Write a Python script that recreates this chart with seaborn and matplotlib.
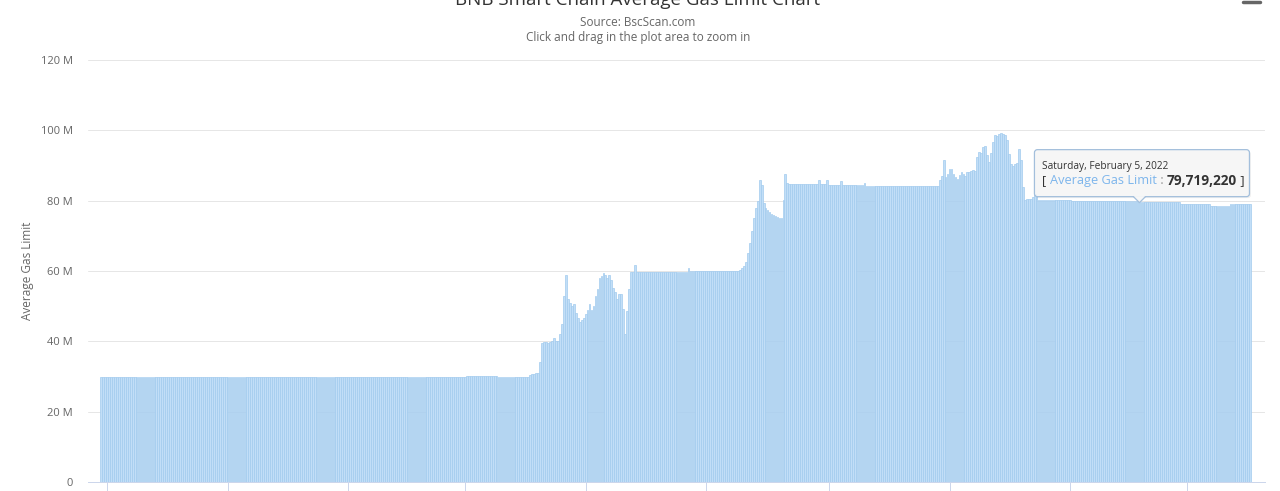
import numpy as np
import pandas as pd
import matplotlib
matplotlib.use("Agg")
import matplotlib.pyplot as plt
import seaborn as sns
from matplotlib.patches import FancyBboxPatch, Polygon
from matplotlib.transforms import IdentityTransform
from matplotlib.lines import Line2D

# Daily average gas limit in millions of gas, one value per day from genesis
launch_phase = [30.0] * 185 + [30.2] * 16 + [30.0] * 16
first_raise = [30.3, 30.6, 30.8, 31.0, 30.9, 34.0, 39.5, 39.7, 39.8, 39.6,
               39.8, 40.0, 40.9, 40.0, 40.2, 42.2, 45.0, 53.0, 58.8, 52.0,
               51.0, 50.0, 50.5, 48.0, 46.7, 45.6, 46.0, 46.5, 47.9, 49.0,
               50.7, 49.0, 50.0, 53.0, 55.0, 57.9, 58.5, 59.3, 59.0, 58.0,
               58.8, 57.5, 55.3, 53.9, 52.0, 53.5, 53.5, 49.3, 42.2, 48.6,
               55.0, 59.6, 59.7, 61.6]
sixty_plateau = ([59.8] * 26 + [60.9] + [59.9] * 21 + [60.0] * 4
                 + [60.3, 60.8, 61.5])
second_raise = [62.5, 65.0, 68.0, 71.5, 75.0, 78.0, 80.0, 85.8, 84.4, 79.2,
                77.8, 77.3, 76.9, 76.3, 76.0, 75.6, 75.3, 75.1, 75.1, 80.1,
                87.7, 85.0]
eighty_five_plateau = ([84.6] * 15 + [86.0] + [84.6] * 3 + [86.0] + [84.5] * 6
                       + [85.5] + [84.4] * 11 + [84.9] + [84.2] * 37)
late_peak = [85.8, 87.0, 91.5, 86.7, 87.7, 89.0, 89.1, 87.7, 86.7, 86.2,
             87.2, 88.2, 87.7, 87.0, 88.2, 88.2, 88.5, 88.7, 88.3, 92.5,
             93.9, 93.5, 95.3, 95.6, 93.0, 91.0, 93.5, 96.7, 98.6, 98.4,
             98.9, 99.3, 98.9, 98.6, 97.2, 93.4, 90.5, 90.0, 90.4, 90.7,
             94.8, 91.5, 83.9]
eighty_plateau = ([80.1] + [80.4] * 3 + [81.0, 82.0, 81.2] + [80.3] * 17
                  + [80.0] * 20 + [79.8] * 14 + [79.71922] + [79.5] * 20
                  + [79.1] * 15 + [78.6] * 10 + [79.0] * 11)

gas_limit_m = (launch_phase + first_raise + sixty_plateau + second_raise
               + eighty_five_plateau + late_peak + eighty_plateau)

start_date = "2020-08-29"
tick_start, tick_end = "2020-09-01", "2022-03-01"
hover_date = "2022-02-05"

title = "BNB Smart Chain Average Gas Limit Chart"
subtitle_source = "Source: BscScan.com"
subtitle_hint = "Click and drag in the plot area to zoom in"
y_title = "Average Gas Limit"
y_ticks = [0, 20, 40, 60, 80, 100, 120]
y_tick_labels = ["0", "20 M", "40 M", "60 M", "80 M", "100 M", "120 M"]
series_name = "Average Gas Limit"

dates = pd.date_range(start_date, periods=len(gas_limit_m), freq="D")
df = pd.DataFrame({"day": np.arange(len(dates)), "gas": gas_limit_m})

sns.set_theme(style="white")
plt.rcParams["font.family"] = ["Open Sans", "DejaVu Sans"]

W, H = 1280, 491
fig = plt.figure(figsize=(W / 100, H / 100), dpi=100)
fig.patch.set_facecolor("white")
ax = fig.add_axes([88 / W, 9 / H, (1265 - 88) / W, (482 - 60) / H])

sns.barplot(data=df, x="day", y="gas", color="#c2def7", saturation=1,
            width=0.9, errorbar=None, linewidth=0.5, edgecolor="#a2cbee",
            ax=ax)

px_per_day = 1.978
ax.set_xlim(-(101 - 88) / px_per_day, -(101 - 88) / px_per_day
            + (1265 - 88) / px_per_day)
ax.set_ylim(0, 120)

# Month ticks every two months, labels fall below the visible area
tick_days = (pd.date_range(tick_start, tick_end, freq="2MS")
             - pd.Timestamp(start_date)).days
ax.set_xticks(tick_days, labels=[""] * len(tick_days))
ax.tick_params(axis="x", length=7.2, width=0.72, color="#ccd6eb",
               direction="out", bottom=True)
ax.set_xlabel("")

ax.set_yticks(y_ticks, labels=y_tick_labels)
ax.tick_params(axis="y", length=0, pad=11, labelsize=8, labelcolor="#666666")
ax.yaxis.grid(True, color="#e6e6e6", linewidth=0.72)
ax.set_axisbelow(True)
for side in ("left", "right", "top"):
    ax.spines[side].set_visible(False)
ax.spines["bottom"].set_color("#ccd6eb")
ax.spines["bottom"].set_linewidth(0.72)

ax.set_ylabel(y_title, fontsize=8.5, color="#666666")
ax.yaxis.set_label_coords((34 - 88) / 1177, 0.5)

fig.text(638 / W, 1 - 5 / H, title, ha="center", va="baseline",
         fontsize=13.5, color="#333333")
fig.text(638 / W, 1 - 23 / H, subtitle_source, ha="center", va="center",
         fontsize=8.5, color="#666666")
fig.text(638 / W, 1 - 38 / H, subtitle_hint, ha="center", va="center",
         fontsize=8.5, color="#666666")

# Export menu button, only its lowest stroke is inside the frame
fig.add_artist(Line2D([1243, 1260], [H - 2, H - 2], lw=2.5, color="#666666",
                      transform=IdentityTransform()))

# Tooltip for the hovered day
fig.canvas.draw()
renderer = fig.canvas.get_renderer()
hover_idx = int((pd.Timestamp(hover_date) - pd.Timestamp(start_date)).days)
hover_val = gas_limit_m[hover_idx]
ax_x, ax_y = ax.transData.transform((hover_idx, hover_val))
ident = IdentityTransform()
box_l, box_r = ax_x - 105, ax_x + 110
box_b = ax_y + 5
box_t = box_b + 47
fig.patches.append(FancyBboxPatch((box_l + 1.5, box_b - 1.5), box_r - box_l,
                                  box_t - box_b,
                                  boxstyle="round,pad=0,rounding_size=3",
                                  transform=ident, fc=(0, 0, 0, 0.06),
                                  ec="none", figure=fig))
fig.patches.append(FancyBboxPatch((box_l, box_b), box_r - box_l,
                                  box_t - box_b,
                                  boxstyle="round,pad=0,rounding_size=3",
                                  transform=ident, fc=(0.97, 0.97, 0.97, 0.9),
                                  ec="#a3bfdc", lw=0.9, figure=fig))
fig.patches.append(Polygon([(ax_x - 6, box_b + 0.6), (ax_x + 6, box_b + 0.6),
                            (ax_x, box_b - 6)], closed=True, transform=ident,
                           fc=(0.97, 0.97, 0.97), ec="none", figure=fig))
fig.add_artist(Line2D([ax_x - 6, ax_x, ax_x + 6],
                      [box_b, box_b - 6, box_b], lw=0.9, color="#a3bfdc",
                      transform=ident))

hover_ts = pd.Timestamp(hover_date)
date_text = f"{hover_ts:%A, %B} {hover_ts.day}, {hover_ts:%Y}"
fig.text(box_l + 8, box_t - 17, date_text, transform=ident, ha="left",
         va="center", fontsize=7.3, color="#333333")

pieces = [("[ ", "#333333", "normal", 9.2),
          (series_name, "#7cb5ec", "normal", 9.2),
          (" : ", "#999999", "normal", 9.2),
          (f"{round(hover_val * 1e6):,}", "#333333", "bold", 9.8),
          (" ]", "#333333", "normal", 9.2)]
cursor = box_l + 8
for text, color, weight, size in pieces:
    t = fig.text(cursor, box_t - 31, text, transform=ident, ha="left",
                 va="center", fontsize=size, color=color, fontweight=weight)
    cursor += t.get_window_extent(renderer).width

fig.savefig("out.png", dpi=100, facecolor="white")
